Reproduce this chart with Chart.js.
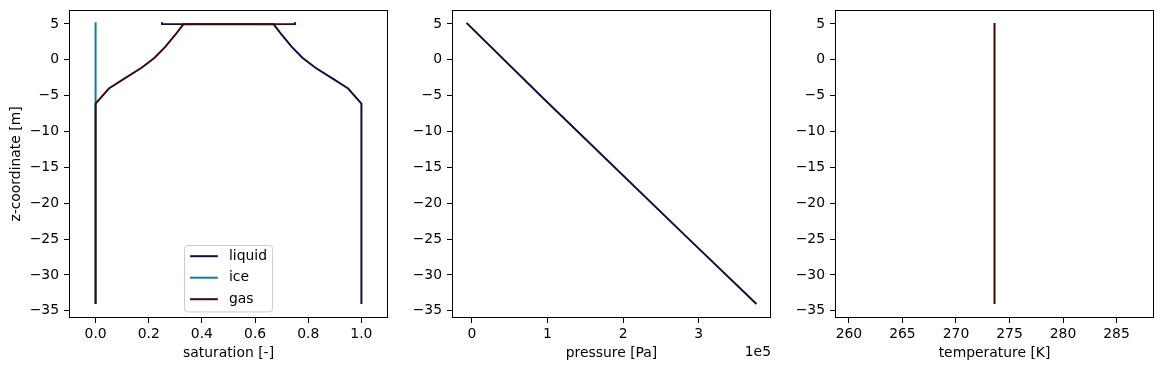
<!DOCTYPE html>
<html>
<head>
<meta charset="utf-8">
<script src="https://cdn.jsdelivr.net/npm/chart.js@4/dist/chart.umd.min.js"></script>
<style>
html, body { margin: 0; padding: 0; background: #fff; }
#fig { position: relative; width: 1163px; height: 371px; }
#fig canvas { position: absolute; top: 0; }
</style>
</head>
<body>
<div id="fig">
<canvas id="chart1" width="392" height="371" style="left:0"></canvas>
<canvas id="chart2" width="383" height="371" style="left:392px"></canvas>
<canvas id="chart3" width="388" height="371" style="left:775px"></canvas>
</div>
<script>
const FONT = "'DejaVu Sans', sans-serif";
const FS = 13.9;

// depth axis shared by all panels
const zTicks = [-35, -30, -25, -20, -15, -10, -5, 0, 5];
const zRange = [-36.0, 6.95];

// saturation profiles
const zSat = [-34.05, -6.1, -4.0, -2.7, -1.1, 0.3, 1.8, 3.5, 4.95, 5.0, 5.25];
const liquidSat = [1.0, 1.0, 0.95, 0.895, 0.827, 0.778, 0.738, 0.70, 0.67, 0.25, 0.25];
const iceSat = [0, 0, 0, 0, 0, 0, 0, 0, 0, 0, 0];
const gasSat = [0, 0, 0.05, 0.105, 0.173, 0.222, 0.262, 0.30, 0.33, 0.75, 0.75];
const satTicks = [0, 0.2, 0.4, 0.6, 0.8, 1.0];
const satRange = [-0.1, 1.1];

// pressure profile
const zPres = [5.15, -5, -25, -34.05];
const pressure = [-7000, 91000, 287000, 376300];
const presTicks = [0, 1e5, 2e5, 3e5];
const presRange = [-26200, 395500];

// temperature profile
const zTemp = [5.15, -34.05];
const temperature = [273.6, 273.6];
const tempTicks = [260, 265, 270, 275, 280, 285];
const tempRange = [258.7, 288.5];

const LIQUID = "#0f0f3c";
const ICE = "#147d9b";
const GAS = "#3c0a0a";

const minus = (v) => (v < 0 ? "\u2212" + Math.abs(v) : String(v));

function pts(xs, zs) {
    return xs.map((x, i) => ({ x: x, y: zs[i] }));
}

function line(label, xs, zs, color, order) {
    return {
        label: label,
        data: pts(xs, zs),
        borderColor: color,
        backgroundColor: color,
        borderWidth: 2,
        pointRadius: 0,
        showLine: true,
        tension: 0,
        order: order,
    };
}

function scale(range, ticks, fmt, title, size, isX) {
    return {
        type: "linear",
        min: range[0],
        max: range[1],
        afterBuildTicks: (s) => { s.ticks = ticks.map((v) => ({ value: v })); },
        afterFit: (s) => {
            if (isX) s.height = size; else s.width = size;
            // keep the plot box where matplotlib puts it
            s.paddingTop = s.paddingBottom = s.paddingLeft = s.paddingRight = 0;
        },
        grid: { drawOnChartArea: false, drawTicks: true, tickLength: 5, tickColor: "#000", tickWidth: 1 },
        border: { display: false },
        ticks: {
            color: "#000",
            font: { family: FONT, size: FS },
            padding: isX ? 3 : 5,
            maxRotation: 0,
            autoSkip: false,
            callback: (v) => fmt(v),
        },
        title: {
            display: !!title,
            text: title,
            color: "#000",
            font: { family: FONT, size: FS },
            padding: isX ? { top: 4, bottom: 9 } : { top: 8, bottom: 4 },
        },
    };
}

const frame = {
    id: "frame",
    afterDraw(chart, args, opts) {
        const a = chart.chartArea;
        const ctx = chart.ctx;
        ctx.save();
        ctx.strokeStyle = "#000";
        ctx.lineWidth = 1;
        ctx.strokeRect(Math.round(a.left) + 0.5, Math.round(a.top) + 0.5,
            Math.round(a.right - a.left) - 1, Math.round(a.bottom - a.top) - 1);
        if (opts.offsetText) {
            ctx.fillStyle = "#000";
            ctx.font = `${FS}px ${FONT}`;
            ctx.textAlign = "right";
            ctx.textBaseline = "middle";
            ctx.fillText(opts.offsetText, a.right, 352);
        }
        ctx.restore();
    },
};

const boxLegend = {
    id: "boxLegend",
    afterDatasetsDraw(chart, args, opts) {
        if (!opts.show) return;
        const ctx = chart.ctx;
        const a = chart.chartArea;
        const sets = chart.data.datasets;
        ctx.save();
        ctx.font = `${FS}px ${FONT}`;
        const textW = Math.max(...sets.map((d) => ctx.measureText(d.label).width));
        const pad = 0.4 * FS, handle = 2 * FS, gap = 0.8 * FS, pitch = 21.5;
        const w = pad + handle + gap + textW + pad;
        const h = 10.7 + pitch * (sets.length - 1) + 12.7;
        const x0 = Math.round((a.left + a.right) / 2 - w / 2) + 0.5;
        const y0 = Math.round(a.bottom - 0.5 * FS - h) + 0.5;
        ctx.beginPath();
        ctx.roundRect(x0, y0, w, h, 3);
        ctx.fillStyle = "rgba(255,255,255,0.8)";
        ctx.fill();
        ctx.strokeStyle = "#cccccc";
        ctx.lineWidth = 1;
        ctx.stroke();
        sets.forEach((d, i) => {
            const y = y0 + 10.7 + i * pitch;
            ctx.strokeStyle = d.borderColor;
            ctx.lineWidth = 2;
            ctx.beginPath();
            ctx.moveTo(x0 + pad, y);
            ctx.lineTo(x0 + pad + handle, y);
            ctx.stroke();
            ctx.fillStyle = "#000";
            ctx.textBaseline = "middle";
            ctx.fillText(d.label, x0 + pad + handle + gap, y);
        });
        ctx.restore();
    },
};

function makeChart(id, datasets, xScale, yScale, padRight, extra) {
    new Chart(document.getElementById(id), {
        type: "scatter",
        data: { datasets: datasets },
        options: {
            responsive: false,
            animation: false,
            events: [],
            layout: { autoPadding: false, padding: { left: 0, right: padRight, top: 10, bottom: 0 } },
            scales: { x: xScale, y: yScale },
            plugins: {
                legend: { display: false },
                tooltip: { enabled: false },
                frame: { offsetText: extra.offsetText || "" },
                boxLegend: { show: !!extra.legend },
            },
        },
        plugins: [frame, boxLegend],
    });
}

makeChart("chart1",
    [
        line("liquid", liquidSat, zSat, LIQUID, 2),
        line("ice", iceSat, zSat, ICE, 1),
        line("gas", gasSat, zSat, GAS, 0),
    ],
    scale(satRange, satTicks, (v) => v.toFixed(1), "saturation [-]", 53, true),
    scale(zRange, zTicks, minus, "z-coordinate [m]", 69, false),
    4, { legend: true });

makeChart("chart2",
    [line("pressure", pressure, zPres, LIQUID, 0)],
    scale(presRange, presTicks, (v) => String(v / 1e5), "pressure [Pa]", 53, true),
    scale(zRange, zTicks, minus, "", 60, false),
    4, { offsetText: "1e5" });

makeChart("chart3",
    [line("temperature", temperature, zTemp, GAS, 0)],
    scale(tempRange, tempTicks, (v) => String(v), "temperature [K]", 53, true),
    scale(zRange, zTicks, minus, "", 60, false),
    9, {});
</script>
</body>
</html>
